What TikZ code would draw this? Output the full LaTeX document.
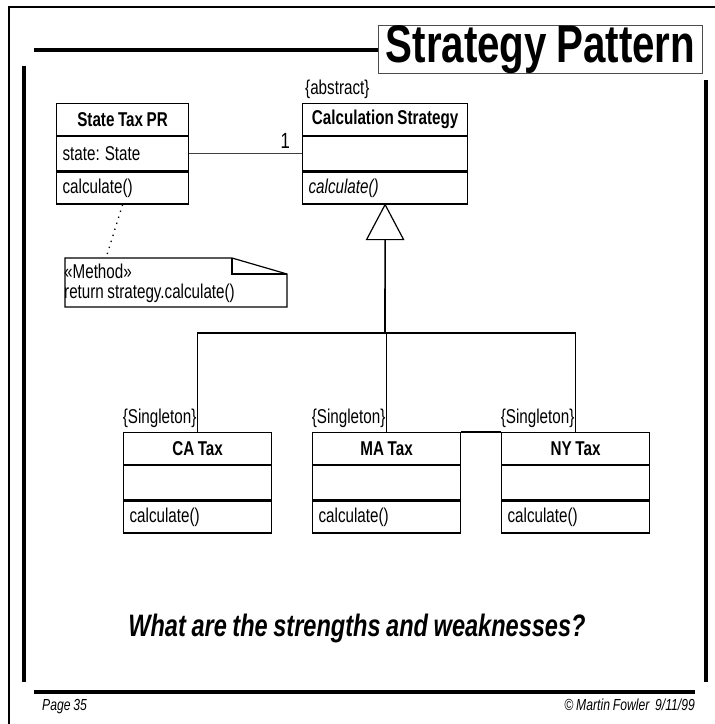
\documentclass[tikz,border=0pt]{standalone}
\usepackage{fontspec}
\setmainfont[FakeStretch=0.76, WordSpace=0.85]{Liberation Sans}
\usetikzlibrary{calc}

\tikzset{
  px/.style={x=1pt,y=-1pt},
  body/.style={font=\fontsize{20}{20}\selectfont},
  comp/.style={draw, line width=1.2pt, inner sep=0pt, anchor=north west, body},
  umlhead/.style={comp, font=\fontsize{20}{20}\selectfont\bfseries},
  umlpart/.style={comp},
  heavy/.style={line width=4pt},
  tag/.style={body, inner sep=1pt},
}

% \umlclass{id}{x}{y}{width}{name}{attribute}{operation}
\newcommand\umlclass[7]{%
  \node[umlhead, minimum width=#4pt, minimum height=32pt]
    (#1-h) at (#2,#3) {\makebox[\dimexpr#4pt-12pt\relax][c]{#5}};
  \node[umlpart, minimum width=#4pt, minimum height=34pt]
    (#1-a) at (#1-h.south west) {\makebox[\dimexpr#4pt-12pt\relax][l]{#6}};
  \node[umlpart, minimum width=#4pt, minimum height=32pt]
    (#1-m) at (#1-a.south west) {\makebox[\dimexpr#4pt-12pt\relax][l]{#7}};
}

\begin{document}
\begin{tikzpicture}[px]
\useasboundingbox (0,0) rectangle (715,724);

% page frame and heavy rules
\draw[line width=1.5pt] (9,724) -- (9,7) -- (715,7);
\node[draw=black!70, line width=1pt, inner xsep=0pt, inner ysep=0pt, anchor=north west,
      minimum width=324pt, minimum height=48pt, text height=37pt, text depth=11pt,
      font=\fontsize{53}{53}\selectfont\bfseries] (title) at (378,25) {Strategy Pattern};
\coordinate (rulestart) at (34,0);
\draw[heavy] (rulestart |- title.west) -- (title.west);
\draw[heavy] (24,66) -- (24,682);
\draw[heavy] (706,80) -- (706,682);
\draw[heavy] (34,692) -- (695,692);

% classes
\umlclass{stp}{56}{103}{132}{State Tax PR}{state: State}{calculate()}
\umlclass{cs}{302}{103}{165}{Calculation Strategy}{}{\itshape calculate()}
\umlclass{ca}{123}{432}{148}{CA Tax}{}{calculate()}
\umlclass{ma}{312}{432}{148}{MA Tax}{}{calculate()}
\umlclass{ny}{501}{432}{148}{NY Tax}{}{calculate()}

\node[tag, anchor=south west] (abs) at ($(cs-h.north west)+(2,-3)$) {\{abstract\}};

% association
\draw[line width=1.2pt, black!75] (stp-a.east) -- (cs-a.west);
\node[font=\fontsize{22}{22}\selectfont, inner sep=0pt, anchor=south east]
  (mult) at ($(cs-a.west)+(-12,-5)$) {1};

% generalization
\draw[line width=1.2pt, fill=white] (cs-m.south) -- ++(-18.5,35) -- ++(37,0) -- cycle;
\coordinate (tribase) at ($(cs-m.south)+(0,35)$);
\coordinate (jn) at (385,333);
\draw[line width=1.6pt] (tribase) -- (jn);
\draw[line width=1.2pt] (ca-h.north) -- (ca-h.north |- jn) -- (ny-h.north |- jn) -- (ny-h.north);
\draw[line width=1.2pt] (jn -| ma-h.north) -- (ma-h.north);
\draw[line width=1.2pt] (ma-h.north east) -- (ny-h.north west);

\node[tag, anchor=south east] (sca) at ($(ca-h.north)+(0,-3)$) {\{Singleton\}};
\node[tag, anchor=south east] (sma) at ($(ma-h.north)+(0,-3)$) {\{Singleton\}};
\node[tag, anchor=south east] (sny) at ($(ny-h.north)+(0,-3)$) {\{Singleton\}};

% note attached to the operation
\coordinate (nw) at (65,258);
\coordinate (nfold) at (232,258);
\coordinate (nfoldb) at (232,274);
\coordinate (ne) at (287,274);
\coordinate (se) at (287,307);
\coordinate (sw) at (65,307);
\coordinate (notetop) at (106,258);
\draw[line width=1.2pt] (nw) -- (nfold) -- (ne) -- (se) -- (sw) -- cycle;
\draw[line width=1.2pt] (nfold) -- (nfoldb) -- (ne);
\node[body, align=left, inner sep=0pt, anchor=north west] (notetext) at (64,264)
  {«Method»\\return strategy.calculate()};
\draw[line width=1.3pt, dash pattern=on 1.3pt off 5pt] (stp-m.south) -- (notetop);

% question and footer
\node[font=\fontsize{31}{31}\selectfont\bfseries\itshape] (q) at (357,628)
  {What are the strengths and weaknesses?};
\node[font=\fontsize{16}{16}\selectfont\itshape, anchor=north west, inner sep=0pt]
  (pg) at (42,699) {Page 35};
\node[font=\fontsize{16}{16}\selectfont\itshape, anchor=north east, inner sep=0pt]
  (cp) at (695,699) {© Martin Fowler~~9/11/99};
\end{tikzpicture}
\end{document}
